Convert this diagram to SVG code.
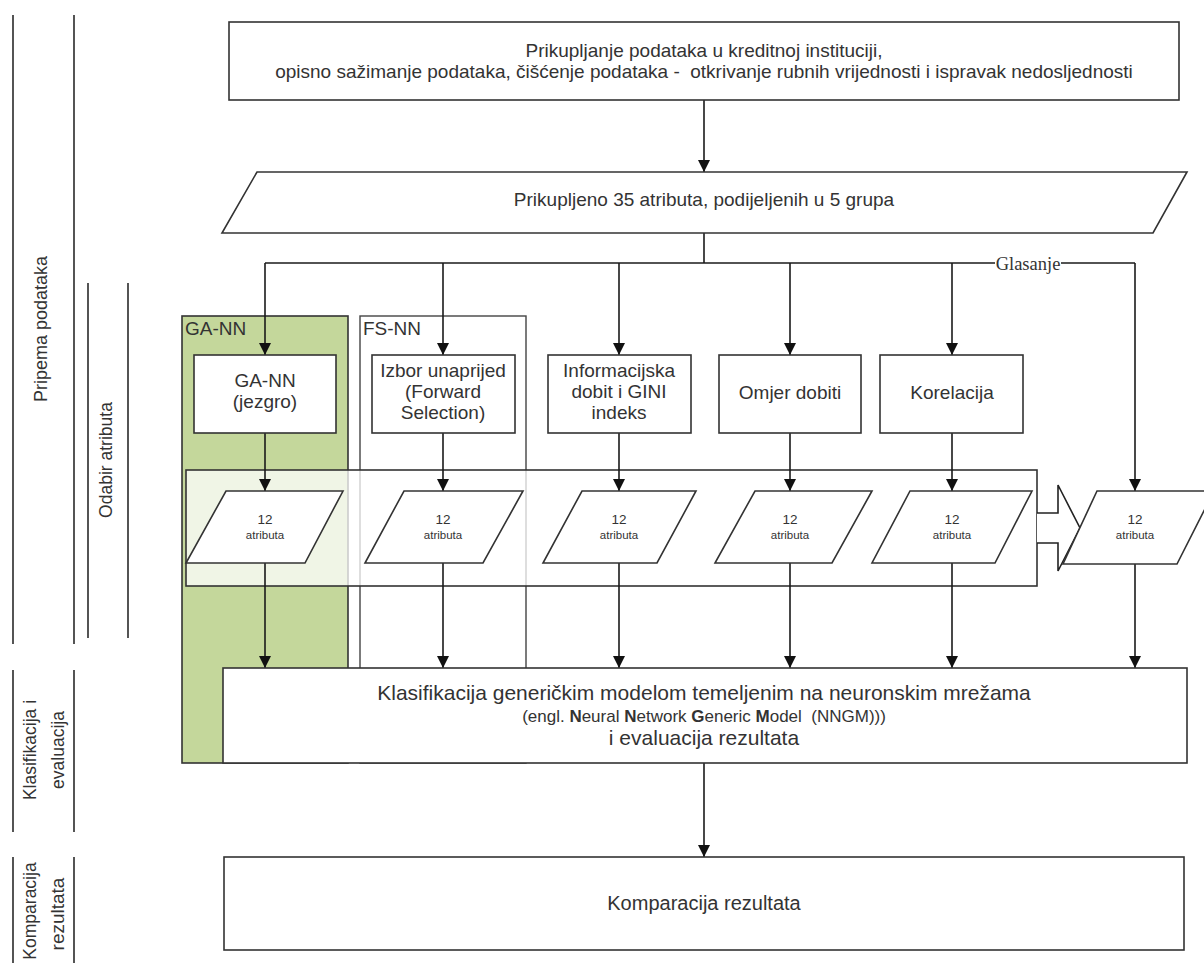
<svg xmlns="http://www.w3.org/2000/svg" width="1204" height="963" viewBox="0 0 1204 963">
<style>
.ln{stroke:#2a2a2a;stroke-width:1.6;fill:none}
.box{stroke:#333;stroke-width:1.6;fill:#fff}
.t{font-family:"Liberation Sans",Arial,sans-serif;fill:#333;text-anchor:middle;white-space:pre}
.s{font-size:19px}
.m{font-size:19px}
.l{font-size:21px}
.sm{font-size:13.5px}
.xs{font-size:11.5px}
.con{stroke:#1a1a1a;stroke-width:1.6;fill:none}
.arr{marker-end:url(#ah)}
</style>
<defs>
<marker id="ah" markerUnits="userSpaceOnUse" markerWidth="12" markerHeight="12" viewBox="0 0 12 12" refX="12" refY="6" orient="auto">
<path d="M0,0 L12,6 L0,12 z" fill="#111"/>
</marker>
</defs>
<rect width="1204" height="963" fill="#fff"/>

<g id="lanes">
<line class="ln" x1="13" y1="15" x2="13" y2="644"/>
<line class="ln" x1="74" y1="15" x2="74" y2="644"/>
<line class="ln" x1="88" y1="283" x2="88" y2="638" stroke="#555"/>
<line class="ln" x1="128" y1="283" x2="128" y2="638" stroke="#555"/>
<line class="ln" x1="13" y1="670" x2="13" y2="832"/>
<line class="ln" x1="74" y1="670" x2="74" y2="832"/>
<line class="ln" x1="13" y1="857" x2="13" y2="963"/>
<line class="ln" x1="74" y1="857" x2="74" y2="963"/>
<text class="t" style="font-size:18px" transform="translate(47,329) rotate(-90)">Pripema podataka</text>
<text class="t" style="font-size:17.5px" transform="translate(112,460) rotate(-90)">Odabir atributa</text>
<text class="t" style="font-size:17.5px" transform="translate(36,750) rotate(-90)">Klasifikacija i</text>
<text class="t" style="font-size:17.5px" transform="translate(64,750) rotate(-90)">evaluacija</text>
<text class="t" style="font-size:17.5px" transform="translate(36,911) rotate(-90)">Komparacija</text>
<text class="t" style="font-size:19px" transform="translate(64,914) rotate(-90)">rezultata</text>
</g>

<g id="ga-nn-group">
<rect x="182" y="316" width="166" height="447" fill="#c4d79b" stroke="#333" stroke-width="1.6"/>
<text class="t s" x="185" y="335" style="text-anchor:start">GA-NN</text>
</g>
<g id="fs-nn-group">
<rect x="360" y="316" width="166" height="447" fill="none" stroke="#444" stroke-width="1.4"/>
<text class="t s" x="363" y="335" style="text-anchor:start">FS-NN</text>
</g>

<g id="attr-band">
<rect x="186" y="470" width="851" height="116" fill="#fff" fill-opacity="0.75" stroke="#333" stroke-width="1.6"/>
<path d="M1037,513 L1058,513 L1058,485 L1080,528 L1058,571 L1058,543 L1037,543" fill="#fff" stroke="#222" stroke-width="1.6"/>
</g>

<g id="connectors">
<line class="con arr" x1="704" y1="100" x2="704" y2="172"/>
<line class="con" x1="704" y1="233" x2="704" y2="263"/>
<line class="con" x1="265" y1="263" x2="1135" y2="263"/>
<line class="con arr" x1="265" y1="263" x2="265" y2="355"/>
<line class="con arr" x1="443" y1="263" x2="443" y2="355"/>
<line class="con arr" x1="619" y1="263" x2="619" y2="355"/>
<line class="con arr" x1="790" y1="263" x2="790" y2="355"/>
<line class="con arr" x1="952" y1="263" x2="952" y2="355"/>
<line class="con arr" x1="1135" y1="263" x2="1135" y2="491"/>
<line class="con arr" x1="265" y1="433" x2="265" y2="491"/>
<line class="con arr" x1="443" y1="433" x2="443" y2="491"/>
<line class="con arr" x1="619" y1="433" x2="619" y2="491"/>
<line class="con arr" x1="790" y1="423" x2="790" y2="491"/>
<line class="con arr" x1="952" y1="433" x2="952" y2="491"/>
<line class="con arr" x1="265" y1="563" x2="265" y2="668"/>
<line class="con arr" x1="443" y1="563" x2="443" y2="668"/>
<line class="con arr" x1="619" y1="563" x2="619" y2="668"/>
<line class="con arr" x1="790" y1="563" x2="790" y2="668"/>
<line class="con arr" x1="952" y1="563" x2="952" y2="668"/>
<line class="con arr" x1="1135" y1="564" x2="1135" y2="668"/>
<line class="con arr" x1="704" y1="763" x2="704" y2="857"/>
<rect x="995" y="254" width="66" height="18" fill="#fff"/>
<text x="1028" y="270" style="font-family:'Liberation Serif',serif;font-size:18.5px;fill:#333;text-anchor:middle">Glasanje</text>
</g>

<g id="n-collect">
<rect class="box" x="229" y="22" width="950" height="78"/>
<text class="t s" x="704" y="57">Prikupljanje podataka u kreditnoj instituciji,</text>
<text class="t s" x="704" y="78">opisno sažimanje podataka, čišćenje podataka -  otkrivanje rubnih vrijednosti i ispravak nedosljednosti</text>
</g>
<g id="n-attrs35">
<polygon class="box" points="257,172 1187,172 1153,233 222,233"/>
<text class="t s" x="704" y="206">Prikupljeno 35 atributa, podijeljenih u 5 grupa</text>
</g>

<g id="n-ga">
<rect class="box" x="194" y="355" width="142" height="78"/>
<text class="t m" x="265" y="387">GA-NN</text>
<text class="t m" x="265" y="408">(jezgro)</text>
</g>
<g id="n-fs">
<rect class="box" x="372" y="355" width="143" height="78"/>
<text class="t m" x="443" y="377">Izbor unaprijed</text>
<text class="t m" x="443" y="398">(Forward</text>
<text class="t m" x="443" y="419">Selection)</text>
</g>
<g id="n-info">
<rect class="box" x="548" y="355" width="143" height="78"/>
<text class="t m" x="619" y="377">Informacijska</text>
<text class="t m" x="619" y="398">dobit i GINI</text>
<text class="t m" x="619" y="419">indeks</text>
</g>
<g id="n-omjer">
<rect class="box" x="719" y="355" width="142" height="78"/>
<text class="t m" x="790" y="399">Omjer dobiti</text>
</g>
<g id="n-kor">
<rect class="box" x="880" y="355" width="143" height="78"/>
<text class="t m" x="952" y="399">Korelacija</text>
</g>

<g id="p-ga">
<polygon class="box" points="226,491 343,491 305,563 186,563"/>
<text class="t sm" x="265" y="524">12</text>
<text class="t xs" x="265" y="539">atributa</text>
</g>
<g id="p-fs">
<polygon class="box" points="404,491 523,491 483,563 365,563"/>
<text class="t sm" x="443" y="524">12</text>
<text class="t xs" x="443" y="539">atributa</text>
</g>
<g id="p-info">
<polygon class="box" points="582,491 696,491 657,563 543,563"/>
<text class="t sm" x="619" y="524">12</text>
<text class="t xs" x="619" y="539">atributa</text>
</g>
<g id="p-omjer">
<polygon class="box" points="755,491 872,491 832,563 715,563"/>
<text class="t sm" x="790" y="524">12</text>
<text class="t xs" x="790" y="539">atributa</text>
</g>
<g id="p-kor">
<polygon class="box" points="910,491 1032,491 995,563 872,563"/>
<text class="t sm" x="952" y="524">12</text>
<text class="t xs" x="952" y="539">atributa</text>
</g>
<g id="p-vote">
<polygon class="box" points="1097,491 1214,491 1177,564 1063,564"/>
<text class="t sm" x="1135" y="524">12</text>
<text class="t xs" x="1135" y="539">atributa</text>
</g>

<g id="n-klas">
<rect class="box" x="223" y="668" width="964" height="95"/>
<text class="t l" x="704" y="700">Klasifikacija generičkim modelom temeljenim na neuronskim mrežama</text>
<text class="t" style="font-size:17px" x="704" y="722">(engl. <tspan font-weight="bold">N</tspan>eural <tspan font-weight="bold">N</tspan>etwork <tspan font-weight="bold">G</tspan>eneric <tspan font-weight="bold">M</tspan>odel  (NNGM)))</text>
<text class="t l" x="704" y="745">i evaluacija rezultata</text>
</g>
<g id="n-komp">
<rect class="box" x="224" y="857" width="960" height="93"/>
<text class="t" style="font-size:20px" x="704" y="910">Komparacija rezultata</text>
</g>
</svg>
